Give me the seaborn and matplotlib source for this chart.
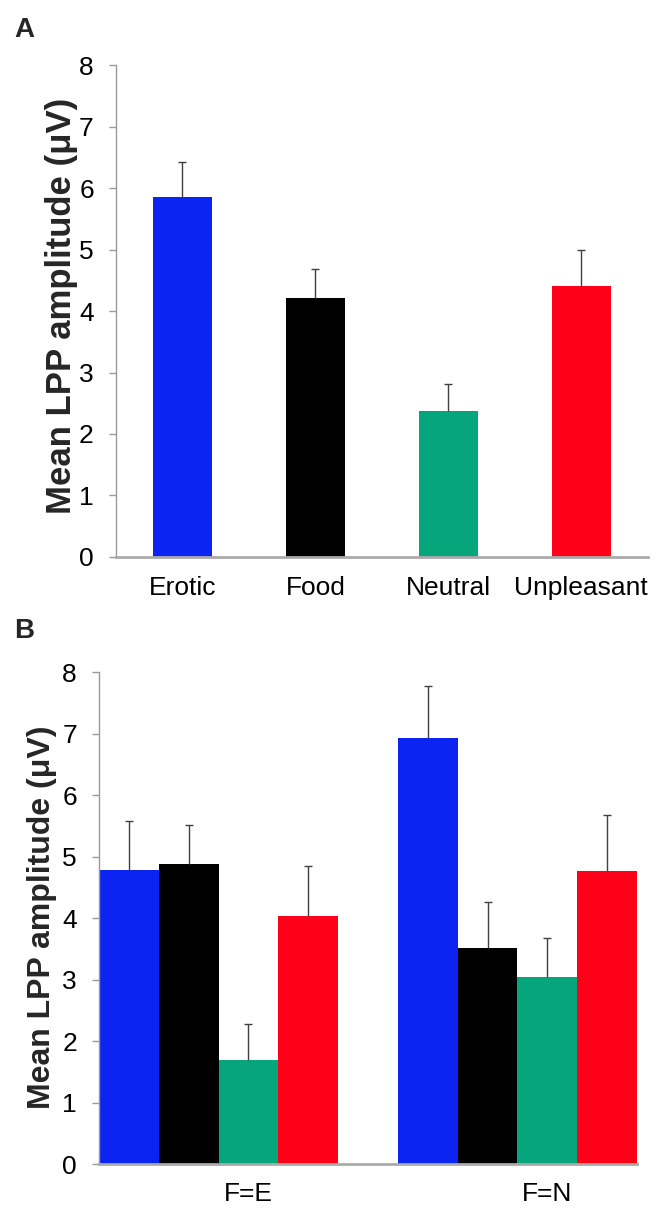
import numpy as np
import pandas as pd
import matplotlib
matplotlib.use("Agg")
import matplotlib.pyplot as plt
import seaborn as sns

# ---- data ----
categories = ["Erotic", "Food", "Neutral", "Unpleasant"]
means_a = [5.86, 4.21, 2.37, 4.40]
err_a = [0.57, 0.48, 0.44, 0.60]

conditions = ["F=E", "F=N"]
means_b = {
    "Erotic":     [4.78, 6.93],
    "Food":       [4.88, 3.52],
    "Neutral":    [1.69, 3.04],
    "Unpleasant": [4.03, 4.76],
}
err_b = {
    "Erotic":     [0.80, 0.84],
    "Food":       [0.64, 0.74],
    "Neutral":    [0.58, 0.64],
    "Unpleasant": [0.82, 0.91],
}
colors = ["#0B24F2", "#000000", "#07A57C", "#FF0019"]
yticks = [0, 1, 2, 3, 4, 5, 6, 7, 8]
ylabel = "Mean LPP amplitude (\u03bcV)"

sns.set_theme(style="white")
plt.rcParams["font.family"] = ["Liberation Sans", "DejaVu Sans"]

fig = plt.figure(figsize=(6.55, 12.08), dpi=100)
axA = fig.add_axes([0.177, 0.539, 0.812, 0.407])
axB = fig.add_axes([0.1511, 0.0364, 0.8214, 0.4073])


def up_errorbars(ax, x, y, e):
    _, caps, _ = ax.errorbar(x, y, yerr=[np.zeros(len(e)), e], fmt="none",
                             ecolor="#404040", elinewidth=1, capsize=3,
                             capthick=1)
    caps[0].set_visible(False)  # hide the cap at the bar top


# ---- panel A ----
dfA = pd.DataFrame({"cat": categories, "val": means_a})
sns.barplot(data=dfA, x="cat", y="val", hue="cat", palette=colors,
            width=0.44, legend=False, ax=axA, saturation=1, errorbar=None,
            linewidth=0)
xs = [p.get_x() + p.get_width() / 2 for p in axA.patches]
up_errorbars(axA, xs, means_a, err_a)
axA.set_xlim(-0.5, 3.5)

# ---- panel B ----
rows = []
for c in categories:
    for i, cond in enumerate(conditions):
        rows.append({"cond": cond, "cat": c, "val": means_b[c][i]})
dfB = pd.DataFrame(rows)
sns.barplot(data=dfB, x="cond", y="val", hue="cat", hue_order=categories,
            palette=colors, width=0.8, legend=False, ax=axB, saturation=1,
            errorbar=None, linewidth=0)
bx, by, be = [], [], []
k = 0
for c in categories:
    for i in range(len(conditions)):
        p = axB.patches[k]
        bx.append(p.get_x() + p.get_width() / 2)
        by.append(means_b[c][i])
        be.append(err_b[c][i])
        k += 1
up_errorbars(axB, bx, by, be)
axB.set_xlim(-0.4, 1.4)
third = categories.index("Neutral") * len(conditions)
tick_pos = [axB.patches[third + i].get_x() + axB.patches[third + i].get_width() / 2
            for i in range(len(conditions))]
axB.set_xticks(tick_pos)
axB.set_xticklabels(conditions)

for ax, lx, ly, lsize, xpad in ((axA, -0.0714, 0.51, 25, 13.5),
                                (axB, -0.078, 0.502, 23, 13)):
    ax.set_ylim(0, 8)
    ax.set_yticks(yticks)
    ax.set_ylabel(ylabel, fontsize=lsize, fontweight="bold")
    ax.yaxis.set_label_coords(lx, ly)
    ax.set_xlabel("")
    for s in ("top", "right"):
        ax.spines[s].set_visible(False)
    ax.spines["left"].set_color("#999999")
    ax.spines["left"].set_linewidth(1)
    ax.spines["bottom"].set_color("#aaaaaa")
    ax.spines["bottom"].set_linewidth(2)
    ax.tick_params(axis="y", which="major", left=True, length=5.4, width=1,
                   color="#999999", labelsize=19, pad=10.5, labelcolor="black")
    ax.tick_params(axis="x", bottom=False, length=0, labelsize=19, pad=xpad,
                   labelcolor="black")

fig.text(0.022, 0.975, "A", fontsize=20, fontweight="bold", va="center", ha="left")
fig.text(0.022, 0.478, "B", fontsize=20, fontweight="bold", va="center", ha="left")

fig.savefig("out.png", dpi=100)
